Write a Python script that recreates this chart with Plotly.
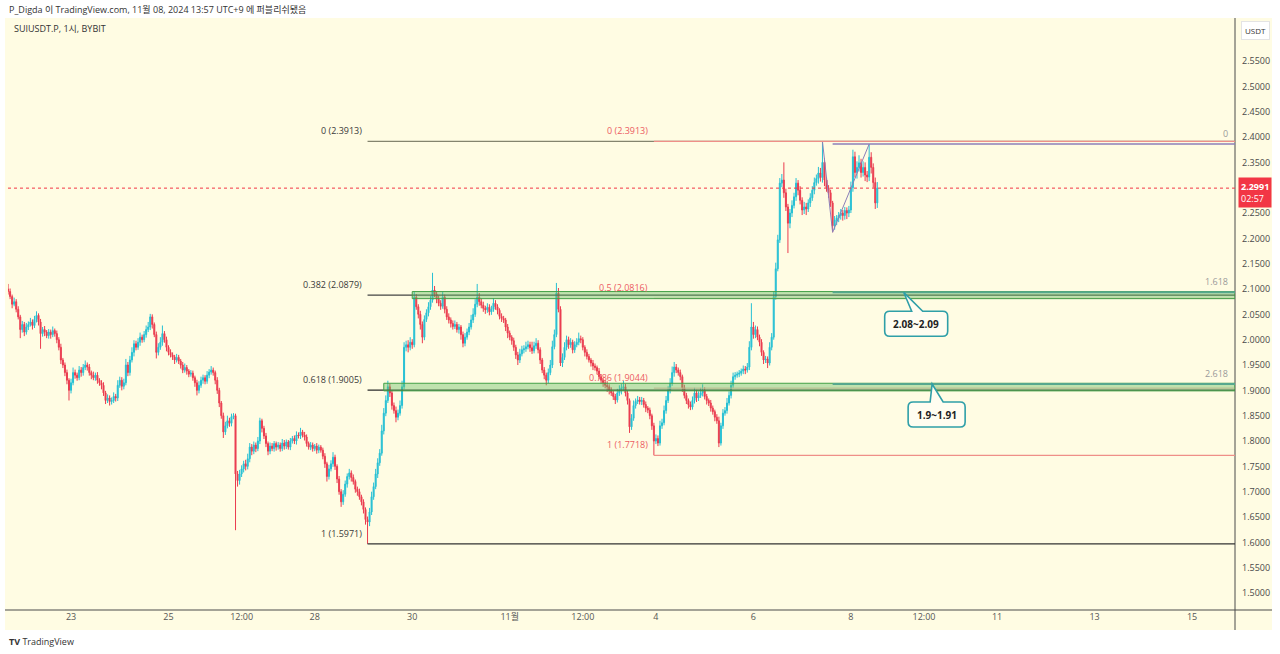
import pandas as pd
import plotly.graph_objects as go

# ---------------- data ----------------
START = "2024-10-21 17:00"          # first hourly candle
FIRST_OPEN = 2.100
CLOSE = [
    2.095, 2.085, 2.070, 2.075, 2.060, 2.045, 2.020, 2.030, 2.015, 2.025,
    2.030, 2.035, 2.028, 2.040, 2.048, 2.035, 2.012, 2.020, 2.015, 2.008,
    2.015, 2.010, 2.018, 2.012, 2.000, 1.985, 1.960, 1.950, 1.935, 1.920,
    1.900, 1.915, 1.935, 1.930, 1.925, 1.940, 1.935, 1.945, 1.950, 1.946,
    1.935, 1.930, 1.925, 1.930, 1.920, 1.915, 1.910, 1.895, 1.880, 1.885,
    1.878, 1.880, 1.888, 1.885, 1.910, 1.920, 1.908, 1.915, 1.950, 1.935,
    1.960, 1.975, 1.992, 1.985, 1.995, 2.005, 2.000, 2.010, 2.020, 2.025,
    2.045, 2.030, 2.010, 1.975, 1.985, 1.995, 2.012, 2.000, 1.985, 1.975,
    1.970, 1.966, 1.960, 1.965, 1.958, 1.950, 1.940, 1.945, 1.938, 1.932,
    1.934, 1.925, 1.915, 1.900, 1.910, 1.920, 1.925, 1.918, 1.930, 1.936,
    1.940, 1.935, 1.920, 1.900, 1.875, 1.850, 1.818, 1.830, 1.840, 1.835,
    1.848, 1.850, 1.735, 1.722, 1.735, 1.745, 1.755, 1.750, 1.765, 1.788,
    1.780, 1.792, 1.785, 1.800, 1.840, 1.825, 1.810, 1.795, 1.780, 1.790,
    1.785, 1.795, 1.788, 1.792, 1.785, 1.796, 1.790, 1.798, 1.788, 1.800,
    1.805, 1.800, 1.812, 1.810, 1.818, 1.812, 1.808, 1.795, 1.788, 1.792,
    1.785, 1.790, 1.782, 1.788, 1.782, 1.770, 1.755, 1.730, 1.745, 1.755,
    1.768, 1.750, 1.725, 1.700, 1.680, 1.695, 1.715, 1.730, 1.737, 1.728,
    1.720, 1.705, 1.700, 1.690, 1.680, 1.665, 1.645, 1.640, 1.660, 1.690,
    1.710, 1.735, 1.757, 1.776, 1.820, 1.855, 1.880, 1.907, 1.895, 1.870,
    1.860, 1.847, 1.855, 1.870, 1.907, 1.985, 1.990, 1.985, 1.995, 1.990,
    2.084, 2.065, 2.050, 2.030, 2.005, 2.040, 2.053, 2.065, 2.078, 2.098,
    2.090, 2.080, 2.072, 2.066, 2.084, 2.060, 2.045, 2.039, 2.032, 2.026,
    2.030, 2.020, 2.025, 2.010, 1.993, 2.005, 2.015, 2.025, 2.039, 2.050,
    2.070, 2.084, 2.075, 2.068, 2.062, 2.059, 2.064, 2.055, 2.060, 2.072,
    2.065, 2.058, 2.046, 2.042, 2.039, 2.025, 2.013, 2.005, 1.998, 1.985,
    1.970, 1.960, 1.972, 1.980, 1.982, 1.986, 1.990, 1.984, 1.978, 1.988,
    1.993, 1.980, 1.960, 1.940, 1.930, 1.920, 1.935, 1.950, 1.986, 2.010,
    2.092, 2.060, 1.954, 1.965, 1.985, 2.000, 1.990, 1.995, 1.980, 1.990,
    1.995, 2.002, 2.000, 1.985, 1.975, 1.967, 1.960, 1.954, 1.948, 1.945,
    1.938, 1.927, 1.920, 1.915, 1.910, 1.907, 1.900, 1.895, 1.888, 1.881,
    1.895, 1.900, 1.905, 1.907, 1.895, 1.880, 1.828, 1.845, 1.870, 1.878,
    1.881, 1.878, 1.880, 1.872, 1.865, 1.861, 1.850, 1.830, 1.800, 1.805,
    1.796, 1.830, 1.836, 1.860, 1.880, 1.900, 1.914, 1.935, 1.946, 1.940,
    1.935, 1.927, 1.905, 1.890, 1.880, 1.872, 1.867, 1.880, 1.895, 1.885,
    1.890, 1.895, 1.900, 1.888, 1.880, 1.875, 1.865, 1.858, 1.847, 1.840,
    1.796, 1.830, 1.855, 1.860, 1.875, 1.890, 1.910, 1.927, 1.930, 1.932,
    1.934, 1.938, 1.942, 1.940, 1.946, 1.985, 2.025, 2.010, 2.020, 2.005,
    1.995, 1.975, 1.960, 1.962, 1.954, 1.985, 2.005, 2.085, 2.140, 2.197,
    2.309, 2.315, 2.290, 2.262, 2.230, 2.250, 2.265, 2.282, 2.309, 2.295,
    2.275, 2.256, 2.262, 2.258, 2.270, 2.280, 2.295, 2.310, 2.318, 2.329,
    2.320, 2.350, 2.315, 2.300, 2.290, 2.270, 2.225, 2.236, 2.240, 2.245,
    2.250, 2.245, 2.255, 2.250, 2.256, 2.300, 2.361, 2.330, 2.340, 2.349,
    2.330, 2.340, 2.325, 2.321, 2.360, 2.340, 2.310, 2.270, 2.2991,
]
UPPER_WICK = [
    0.010, 0.006, 0.004, 0.008, 0.005, 0.006, 0.004, 0.007, 0.005, 0.008,
    0.006, 0.008, 0.005, 0.007, 0.008, 0.004, 0.006, 0.005, 0.007, 0.004,
    0.006, 0.005, 0.008, 0.004, 0.006, 0.005, 0.007, 0.004, 0.005, 0.006,
    0.004, 0.008, 0.010, 0.006, 0.005, 0.008, 0.006, 0.007, 0.009, 0.005,
    0.006, 0.004, 0.007, 0.005, 0.006, 0.004, 0.005, 0.006, 0.004, 0.007,
    0.005, 0.006, 0.008, 0.005, 0.010, 0.007, 0.006, 0.008, 0.012, 0.006,
    0.008, 0.010, 0.007, 0.006, 0.008, 0.009, 0.005, 0.007, 0.008, 0.010,
    0.006, 0.005, 0.004, 0.006, 0.008, 0.010, 0.016, 0.005, 0.006, 0.004,
    0.006, 0.005, 0.004, 0.007, 0.005, 0.004, 0.006, 0.008, 0.005, 0.004,
    0.006, 0.005, 0.004, 0.006, 0.008, 0.007, 0.006, 0.005, 0.008, 0.006,
    0.008, 0.005, 0.004, 0.006, 0.005, 0.004, 0.006, 0.008, 0.010, 0.006,
    0.006, 0.005, 0.004, 0.006, 0.008, 0.007, 0.006, 0.008, 0.010, 0.008,
    0.006, 0.007, 0.005, 0.008, 0.006, 0.004, 0.005, 0.006, 0.004, 0.007,
    0.006, 0.005, 0.004, 0.006, 0.005, 0.008, 0.006, 0.005, 0.004, 0.006,
    0.005, 0.006, 0.007, 0.005, 0.008, 0.004, 0.006, 0.005, 0.004, 0.006,
    0.005, 0.004, 0.006, 0.005, 0.004, 0.005, 0.006, 0.004, 0.008, 0.007,
    0.010, 0.005, 0.004, 0.006, 0.005, 0.008, 0.007, 0.006, 0.008, 0.005,
    0.006, 0.004, 0.005, 0.006, 0.004, 0.005, 0.004, 0.006, 0.008, 0.010,
    0.008, 0.010, 0.009, 0.008, 0.012, 0.010, 0.010, 0.012, 0.006, 0.005,
    0.006, 0.008, 0.007, 0.010, 0.012, 0.010, 0.008, 0.009, 0.010, 0.006,
    0.010, 0.006, 0.005, 0.007, 0.006, 0.008, 0.007, 0.009, 0.008, 0.034,
    0.008, 0.006, 0.007, 0.006, 0.010, 0.005, 0.006, 0.007, 0.005, 0.006,
    0.008, 0.005, 0.006, 0.004, 0.006, 0.008, 0.007, 0.008, 0.010, 0.012,
    0.010, 0.026, 0.008, 0.006, 0.007, 0.005, 0.008, 0.006, 0.007, 0.010,
    0.006, 0.005, 0.004, 0.006, 0.005, 0.004, 0.006, 0.005, 0.004, 0.006,
    0.005, 0.006, 0.010, 0.008, 0.007, 0.010, 0.008, 0.006, 0.012, 0.008,
    0.010, 0.006, 0.005, 0.004, 0.006, 0.005, 0.008, 0.010, 0.012, 0.010,
    0.020, 0.010, 0.006, 0.008, 0.010, 0.008, 0.006, 0.008, 0.005, 0.007,
    0.008, 0.012, 0.006, 0.005, 0.004, 0.006, 0.005, 0.004, 0.006, 0.005,
    0.004, 0.006, 0.005, 0.004, 0.006, 0.008, 0.005, 0.006, 0.004, 0.005,
    0.008, 0.010, 0.008, 0.012, 0.006, 0.005, 0.004, 0.008, 0.010, 0.006,
    0.008, 0.006, 0.007, 0.005, 0.006, 0.004, 0.005, 0.004, 0.006, 0.008,
    0.006, 0.010, 0.008, 0.010, 0.009, 0.008, 0.010, 0.012, 0.010, 0.006,
    0.005, 0.006, 0.004, 0.006, 0.005, 0.004, 0.006, 0.008, 0.010, 0.006,
    0.008, 0.010, 0.012, 0.006, 0.005, 0.004, 0.006, 0.005, 0.004, 0.006,
    0.008, 0.006, 0.008, 0.007, 0.010, 0.008, 0.009, 0.008, 0.006, 0.005,
    0.006, 0.005, 0.007, 0.006, 0.008, 0.012, 0.047, 0.010, 0.008, 0.006,
    0.005, 0.006, 0.004, 0.006, 0.005, 0.010, 0.008, 0.010, 0.012, 0.010,
    0.010, 0.012, 0.035, 0.008, 0.006, 0.008, 0.010, 0.008, 0.010, 0.006,
    0.008, 0.006, 0.010, 0.008, 0.007, 0.009, 0.008, 0.010, 0.008, 0.012,
    0.010, 0.0413, 0.008, 0.006, 0.005, 0.006, 0.004, 0.008, 0.006, 0.007,
    0.008, 0.006, 0.007, 0.006, 0.008, 0.012, 0.014, 0.010, 0.012, 0.015,
    0.008, 0.012, 0.010, 0.008, 0.026, 0.010, 0.008, 0.010, 0.012,
]
LOWER_WICK = [
    0.006, 0.005, 0.008, 0.004, 0.006, 0.005, 0.017, 0.006, 0.008, 0.005,
    0.006, 0.004, 0.008, 0.005, 0.006, 0.007, 0.030, 0.006, 0.008, 0.005,
    0.006, 0.008, 0.005, 0.006, 0.007, 0.006, 0.008, 0.006, 0.007, 0.008,
    0.020, 0.006, 0.005, 0.007, 0.006, 0.005, 0.008, 0.006, 0.005, 0.007,
    0.006, 0.008, 0.005, 0.006, 0.007, 0.006, 0.008, 0.006, 0.007, 0.005,
    0.008, 0.006, 0.005, 0.007, 0.006, 0.005, 0.008, 0.006, 0.005, 0.007,
    0.006, 0.005, 0.008, 0.006, 0.005, 0.007, 0.006, 0.005, 0.006, 0.005,
    0.006, 0.008, 0.005, 0.012, 0.006, 0.005, 0.007, 0.006, 0.008, 0.006,
    0.005, 0.006, 0.008, 0.005, 0.006, 0.007, 0.006, 0.005, 0.007, 0.006,
    0.005, 0.006, 0.008, 0.010, 0.006, 0.005, 0.007, 0.006, 0.005, 0.006,
    0.005, 0.006, 0.008, 0.007, 0.008, 0.006, 0.012, 0.006, 0.005, 0.007,
    0.006, 0.005, 0.111, 0.012, 0.008, 0.006, 0.007, 0.008, 0.006, 0.007,
    0.008, 0.006, 0.007, 0.005, 0.006, 0.008, 0.006, 0.007, 0.008, 0.006,
    0.005, 0.006, 0.007, 0.005, 0.006, 0.005, 0.007, 0.006, 0.005, 0.006,
    0.005, 0.006, 0.007, 0.005, 0.006, 0.005, 0.007, 0.006, 0.005, 0.006,
    0.006, 0.005, 0.007, 0.006, 0.005, 0.006, 0.008, 0.010, 0.006, 0.005,
    0.006, 0.007, 0.008, 0.006, 0.010, 0.006, 0.005, 0.007, 0.006, 0.008,
    0.006, 0.007, 0.008, 0.006, 0.007, 0.008, 0.010, 0.0429, 0.008, 0.006,
    0.006, 0.005, 0.008, 0.006, 0.005, 0.007, 0.006, 0.005, 0.008, 0.008,
    0.006, 0.010, 0.006, 0.005, 0.006, 0.005, 0.008, 0.010, 0.006, 0.008,
    0.005, 0.006, 0.008, 0.010, 0.012, 0.006, 0.005, 0.007, 0.006, 0.005,
    0.006, 0.008, 0.006, 0.007, 0.005, 0.008, 0.006, 0.007, 0.008, 0.006,
    0.005, 0.006, 0.008, 0.010, 0.008, 0.006, 0.005, 0.006, 0.005, 0.006,
    0.005, 0.006, 0.008, 0.006, 0.007, 0.008, 0.006, 0.007, 0.006, 0.005,
    0.006, 0.008, 0.006, 0.007, 0.006, 0.008, 0.010, 0.006, 0.008, 0.007,
    0.008, 0.010, 0.006, 0.005, 0.007, 0.006, 0.005, 0.008, 0.006, 0.005,
    0.006, 0.007, 0.008, 0.006, 0.008, 0.010, 0.006, 0.005, 0.006, 0.005,
    0.005, 0.006, 0.006, 0.008, 0.005, 0.006, 0.008, 0.006, 0.007, 0.006,
    0.005, 0.006, 0.007, 0.006, 0.008, 0.006, 0.005, 0.007, 0.008, 0.006,
    0.006, 0.005, 0.007, 0.008, 0.006, 0.010, 0.008, 0.006, 0.007, 0.008,
    0.005, 0.006, 0.008, 0.006, 0.007, 0.008, 0.012, 0.006, 0.005, 0.006,
    0.005, 0.006, 0.007, 0.006, 0.008, 0.006, 0.007, 0.008, 0.0282, 0.006,
    0.006, 0.005, 0.006, 0.005, 0.006, 0.005, 0.006, 0.005, 0.008, 0.006,
    0.006, 0.007, 0.008, 0.006, 0.007, 0.008, 0.006, 0.005, 0.006, 0.008,
    0.006, 0.005, 0.007, 0.006, 0.008, 0.006, 0.007, 0.006, 0.008, 0.006,
    0.008, 0.005, 0.006, 0.005, 0.006, 0.005, 0.006, 0.005, 0.006, 0.005,
    0.006, 0.005, 0.006, 0.008, 0.005, 0.006, 0.006, 0.008, 0.007, 0.006,
    0.008, 0.007, 0.008, 0.006, 0.010, 0.005, 0.006, 0.005, 0.006, 0.005,
    0.006, 0.008, 0.010, 0.008, 0.059, 0.010, 0.008, 0.006, 0.008, 0.010,
    0.008, 0.010, 0.008, 0.012, 0.006, 0.008, 0.006, 0.008, 0.006, 0.010,
    0.008, 0.010, 0.012, 0.008, 0.010, 0.008, 0.013, 0.008, 0.010, 0.008,
    0.008, 0.010, 0.008, 0.012, 0.008, 0.006, 0.008, 0.010, 0.012, 0.008,
    0.010, 0.008, 0.012, 0.010, 0.008, 0.012, 0.010, 0.012, 0.010,
]

# Fibonacci retracement (black), anchored at the Oct 29 low
FIB_A_START = "2024-10-29 02:00"
FIB_A_LEVELS = ["0", "0.382", "0.618", "1"]
FIB_A_PRICES = [2.3913, 2.0879, 1.9005, 1.5971]
# Fibonacci retracement (red), anchored at the Nov 3 low
FIB_B_START = "2024-11-03 23:00"
FIB_B_LEVELS = ["0", "0.5", "0.786", "1"]
FIB_B_PRICES = [2.3913, 2.0816, 1.9044, 1.7718]
# trend-based extension
EXT_START = "2024-11-07 15:00"
EXT_LEVELS = ["0", "1.618", "2.618"]
EXT_PRICES = [2.386, 2.0935, 1.9125]
ZIGZAG_T = ["2024-11-07 10:00", "2024-11-07 15:00", "2024-11-08 09:00"]
ZIGZAG_P = [2.3913, 2.212, 2.386]
# support zones
ZONE_START = ["2024-10-30 00:00", "2024-10-29 10:00"]
ZONE_LOW = [2.081, 1.899]
ZONE_HIGH = [2.095, 1.914]
ZONE_TEXT = ["2.08~2.09", "1.9~1.91"]
CALLOUT_T = ["2024-11-09 02:00", "2024-11-09 16:00"]
CALLOUT_P = [2.0935, 1.9125]

LAST_PRICE = 2.2991
COUNTDOWN = "02:57"

X_BEGIN, X_END = "2024-10-21 16:58", "2024-11-15 21:08"
X_TICKS = ["2024-10-23", "2024-10-25", "2024-10-26 12:00", "2024-10-28",
           "2024-10-30", "2024-11-01", "2024-11-02 12:00", "2024-11-04",
           "2024-11-06", "2024-11-08", "2024-11-09 12:00", "2024-11-11",
           "2024-11-13", "2024-11-15"]
X_TICKTEXT = ["23", "25", "12:00", "28", "30", "11월", "12:00", "4",
              "6", "8", "12:00", "11", "13", "15"]
Y_TICKS = [1.50, 1.55, 1.60, 1.65, 1.70, 1.75, 1.80, 1.85, 1.90, 1.95,
           2.00, 2.05, 2.10, 2.15, 2.20, 2.25, 2.30, 2.35, 2.40, 2.45,
           2.50, 2.55]
Y_RANGE = [1.4665, 2.6349]

# ---------------- build ----------------
n = len(CLOSE)
assert len(UPPER_WICK) == n and len(LOWER_WICK) == n, (n, len(UPPER_WICK), len(LOWER_WICK))
times = pd.date_range(START, periods=n, freq="h")
opens = [FIRST_OPEN] + CLOSE[:-1]
highs = [max(o, c) + u for o, c, u in zip(opens, CLOSE, UPPER_WICK)]
lows = [min(o, c) - d for o, c, d in zip(opens, CLOSE, LOWER_WICK)]

UP = "#27c0d4"
DOWN = "#ea3c4f"
BG = "#fffce3"
FONT = "Open Sans, Noto Sans CJK KR, sans-serif"

fig = go.Figure()
fig.add_trace(go.Candlestick(
    x=times, open=opens, high=highs, low=lows, close=CLOSE,
    increasing=dict(line=dict(color=UP, width=1), fillcolor=UP),
    decreasing=dict(line=dict(color=DOWN, width=1), fillcolor=DOWN),
    whiskerwidth=0, hoverinfo="skip", showlegend=False,
))
fig.add_trace(go.Scatter(
    x=ZIGZAG_T, y=ZIGZAG_P, mode="lines",
    line=dict(color="#8c7fb8", width=1), hoverinfo="skip", showlegend=False,
))

shapes = []
annotations = []
PW, PH = 1227.0, 592.0           # plot area size in px (page x 8..1235, y 18..610)
shapes.append(dict(type="rect", xref="paper", yref="paper", layer="below",
                   x0=-3 / PW, x1=1264 / PW, y0=-20 / PH, y1=1.0,
                   fillcolor=BG, line=dict(width=0)))
shapes.append(dict(type="line", xref="paper", yref="paper",
                   x0=1.0, x1=1.0, y0=-20 / PH, y1=1.0,
                   line=dict(color="#4a4a4a", width=1)))
shapes.append(dict(type="line", xref="paper", yref="paper",
                   x0=-3 / PW, x1=1264 / PW, y0=0, y1=0,
                   line=dict(color="#4a4a4a", width=1)))

# black fib
fibA_colors = ["#84846e", "#444444", "#2b2b2b", "#333333"]
for lvl, p, col in zip(FIB_A_LEVELS, FIB_A_PRICES, fibA_colors):
    shapes.append(dict(type="line", xref="x", yref="y", x0=FIB_A_START, x1=X_END,
                       y0=p, y1=p, line=dict(color=col, width=1.3)))
    annotations.append(dict(x=FIB_A_START, y=p, xref="x", yref="y",
                            text=f"{lvl} ({p:.4f})", showarrow=False,
                            xanchor="right", yanchor="bottom", xshift=-4, yshift=2,
                            font=dict(size=9, color="#3a3a3a", family=FONT)))
# red fib
for k, (lvl, p) in enumerate(zip(FIB_B_LEVELS, FIB_B_PRICES)):
    inner = k in (1, 2)
    shapes.append(dict(type="line", xref="x", yref="y", x0=FIB_B_START, x1=X_END,
                       y0=p, y1=p,
                       line=dict(color="#f3b0a8" if inner else "#ef8f88",
                                 width=1 if inner else 1.3)))
    annotations.append(dict(x=FIB_B_START, y=p, xref="x", yref="y",
                            text=f"{lvl} ({p:.4f})", showarrow=False,
                            xanchor="right", yanchor="bottom", xshift=-4, yshift=2,
                            font=dict(size=9, color="#ec5b62", family=FONT)))

# zones (drawn over the fib levels)
for s, lo, hi in zip(ZONE_START, ZONE_LOW, ZONE_HIGH):
    shapes.append(dict(type="rect", xref="x", yref="y", layer="above",
                       x0=s, x1=X_END, y0=lo, y1=hi,
                       fillcolor="rgba(102,190,100,0.42)",
                       line=dict(color="#43a047", width=1)))

# extension
ext_colors = ["#8c7fb8", "#57a88e", "#57a88e"]
ext_widths = [1.5, 2, 2]
for lvl, p, col, w in zip(EXT_LEVELS, EXT_PRICES, ext_colors, ext_widths):
    shapes.append(dict(type="line", xref="x", yref="y", x0=EXT_START, x1=X_END,
                       y0=p, y1=p, line=dict(color=col, width=w)))
    annotations.append(dict(x=1.0, y=p, xref="paper", yref="y", text=lvl,
                            showarrow=False, xanchor="right", yanchor="bottom",
                            xshift=-5, yshift=2,
                            font=dict(size=9, color="#9a9a9a", family=FONT)))

# last price line
shapes.append(dict(type="line", xref="x", yref="y", x0=X_BEGIN, x1=X_END,
                   y0=LAST_PRICE, y1=LAST_PRICE,
                   line=dict(color="#f23645", width=1, dash="dot")))


def callout_path(left, right, top, bottom, bl, br, r=5):
    return (f"M {bl},{top} L 0,0 L {br},{top} L {right - r},{top} "
            f"Q {right},{top} {right},{top - r} L {right},{bottom + r} "
            f"Q {right},{bottom} {right - r},{bottom} L {left + r},{bottom} "
            f"Q {left},{bottom} {left},{bottom + r} L {left},{top - r} "
            f"Q {left},{top} {left + r},{top} Z")


CALLOUT_GEOM = [(-19, 44, -19, -44, 8, 19), (-24, 33, -18, -43, -2, 11)]
for t, p, txt, g in zip(CALLOUT_T, CALLOUT_P, ZONE_TEXT, CALLOUT_GEOM):
    left, right, top, bottom, bl, br = g
    shapes.append(dict(type="path", xref="x", yref="y",
                       xsizemode="pixel", ysizemode="pixel",
                       xanchor=t, yanchor=p,
                       path=callout_path(left, right, top, bottom, bl, br),
                       fillcolor="#fffdf0", line=dict(color="#2f9fa8", width=1.6),
                       layer="above"))
    annotations.append(dict(x=t, y=p, xref="x", yref="y", text=f"<b>{txt}</b>",
                            showarrow=False, xshift=(left + right) / 2,
                            yshift=(top + bottom) / 2,
                            font=dict(size=10, color="#222222", family=FONT)))

# price label on axis
annotations.append(dict(x=1.0, y=LAST_PRICE, xref="paper", yref="y",
                        text=f"<b>{LAST_PRICE:.4f}</b><br>{COUNTDOWN}",
                        showarrow=False, xanchor="left", yanchor="middle",
                        xshift=3, yshift=-4, align="left", bgcolor="#f23645",
                        borderpad=2, font=dict(size=9, color="white", family=FONT)))
annotations.append(dict(x=(1255 - 8) / PW, y=(610 - 31) / PH, xref="paper", yref="paper",
                        text="USDT", showarrow=False, xanchor="center", yanchor="middle",
                        bgcolor="white", bordercolor="#e4e4e4", borderwidth=1, borderpad=3,
                        font=dict(size=8, color="#333333", family=FONT)))
# titles
annotations.append(dict(x=-1 / PW, y=(610 - 9) / PH, xref="paper", yref="paper",
                        text="P_Digda 이 TradingView.com, 11월 08, 2024 13:57 UTC+9 에 퍼블리쉬됐음",
                        showarrow=False, xanchor="left", yanchor="middle",
                        font=dict(size=9, color="#333333", family=FONT)))
annotations.append(dict(x=4 / PW, y=(610 - 29) / PH, xref="paper", yref="paper",
                        text="SUIUSDT.P, 1시, BYBIT", showarrow=False,
                        xanchor="left", yanchor="middle",
                        font=dict(size=9, color="#333333", family=FONT)))
annotations.append(dict(x=-1 / PW, y=(610 - 641) / PH, xref="paper", yref="paper",
                        text="<b>TV</b> TradingView", showarrow=False,
                        xanchor="left", yanchor="middle",
                        font=dict(size=9, color="#333333", family=FONT)))

fig.update_layout(
    width=1280, height=654,
    margin=dict(l=8, r=45, t=18, b=44),
    paper_bgcolor="white", plot_bgcolor=BG,
    showlegend=False, hovermode=False,
    font=dict(family=FONT, size=9, color="#4a4a4a"),
    shapes=shapes, annotations=annotations,
    xaxis=dict(type="date", range=[X_BEGIN, X_END], tickvals=X_TICKS,
               ticktext=X_TICKTEXT, showgrid=False, zeroline=False,
               ticks="", showline=False, rangeslider=dict(visible=False),
               tickfont=dict(size=9, color="#555555")),
    yaxis=dict(side="right", range=Y_RANGE, tickvals=Y_TICKS,
               ticktext=[f"{v:.4f}" for v in Y_TICKS], showgrid=False,
               zeroline=False, ticks="", showline=False, ticklabelstandoff=6,
               tickfont=dict(size=9, color="#4a4a4a")),
)

# remove the browser's default 8px body margin so the figure fills the window
fig.write_html("out.html", config={"displayModeBar": False},
               post_script="document.body.style.margin='0px';")
